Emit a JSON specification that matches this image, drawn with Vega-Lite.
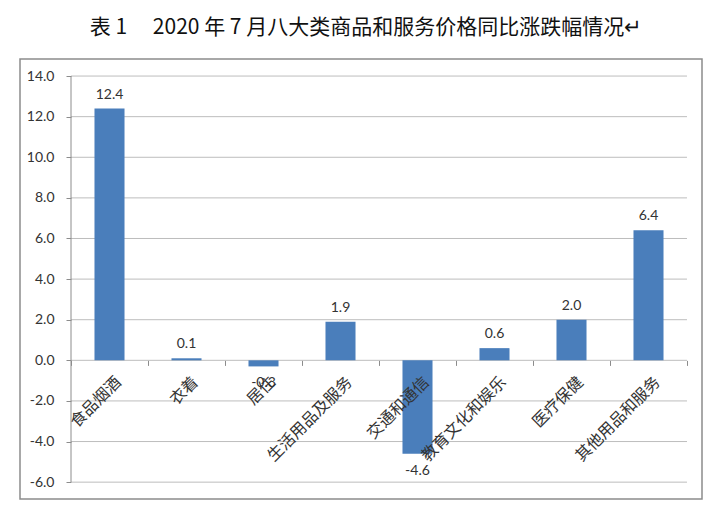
{
  "$schema": "https://vega.github.io/schema/vega-lite/v6.json",
  "width": 682,
  "height": 440,
  "autosize": {"type": "none"},
  "padding": {"left": 20, "top": 59, "right": 18, "bottom": 17},
  "background": "white",
  "title": {
    "text": "表 1　 2020 年 7 月八大类商品和服务价格同比涨跌幅情况↵",
    "font": "Noto Sans CJK SC",
    "fontSize": 21,
    "fontWeight": "normal",
    "color": "#111111",
    "anchor": "middle",
    "baseline": "bottom",
    "offset": 0,
    "dx": 5
  },
  "config": {
    "view": {"stroke": "#8c8c8c", "strokeWidth": 1.5}
  },
  "datasets": {
    "bars": [
      {"c": "食品烟酒", "v": 12.4},
      {"c": "衣着", "v": 0.1},
      {"c": "居住", "v": -0.3},
      {"c": "生活用品及服务", "v": 1.9},
      {"c": "交通和通信", "v": -4.6},
      {"c": "教育文化和娱乐", "v": 0.6},
      {"c": "医疗保健", "v": 2.0},
      {"c": "其他用品和服务", "v": 6.4}
    ],
    "grid": [
      {"g": -6}, {"g": -4}, {"g": -2}, {"g": 0}, {"g": 2}, {"g": 4},
      {"g": 6}, {"g": 8}, {"g": 10}, {"g": 12}, {"g": 14}
    ]
  },
  "data": {"name": "bars"},
  "layer": [
    {
      "data": {"name": "grid"},
      "mark": {"type": "rule", "color": "#bdbdbd", "strokeWidth": 1},
      "encoding": {
        "x": {"datum": "食品烟酒", "type": "nominal", "bandPosition": 0},
        "x2": {"datum": "其他用品和服务", "bandPosition": 1},
        "y": {"field": "g", "type": "quantitative"}
      }
    },
    {
      "data": {"values": [{}]},
      "mark": {"type": "rule", "color": "#8c8c8c", "strokeWidth": 1},
      "encoding": {
        "x": {"datum": "食品烟酒", "type": "nominal", "bandPosition": 0},
        "y": {"datum": -6, "type": "quantitative"},
        "y2": {"datum": 14}
      }
    },
    {
      "mark": {"type": "bar", "color": "#4a7ebb", "width": {"band": 0.39}},
      "encoding": {
        "x": {
          "field": "c",
          "type": "nominal",
          "sort": null,
          "scale": {
            "domain": ["食品烟酒", "衣着", "居住", "生活用品及服务", "交通和通信", "教育文化和娱乐", "医疗保健", "其他用品和服务"],
            "paddingInner": 0, "paddingOuter": 0.4286, "align": 0.7727
          },
          "axis": {
            "title": null,
            "orient": "bottom",
            "offset": -138.6,
            "zindex": 1,
            "domain": false,
            "tickBand": "extent",
            "ticks": true,
            "tickSize": 5,
            "tickColor": "#8c8c8c",
            "labelAngle": -45,
            "labelAlign": "right",
            "labelBaseline": "top",
            "labelPadding": 8,
            "labelOffset": 3,
            "labelFont": "Noto Sans CJK SC",
            "labelFontSize": 16,
            "labelColor": "#333333",
            "labelOverlap": false
          }
        },
        "y": {
          "field": "v",
          "type": "quantitative",
          "scale": {"domain": [-6.83, 14.84], "nice": false, "zero": false},
          "axis": {
            "title": null,
            "values": [-6, -4, -2, 0, 2, 4, 6, 8, 10, 12, 14],
            "labelExpr": "replace(format(datum.value, '.1f'), '−', '-')",
            "offset": -51,
            "grid": false,
            "domain": false,
            "ticks": true,
            "tickSize": 5,
            "tickColor": "#8c8c8c",
            "labelPadding": 12,
            "labelFont": "Lato",
            "labelFontSize": 14,
            "labelColor": "#333333"
          }
        }
      }
    },
    {
      "transform": [
        {"filter": "datum.v >= 0"},
        {"calculate": "replace(format(datum.v, '.1f'), '−', '-')", "as": "lbl"}
      ],
      "mark": {"type": "text", "baseline": "bottom", "dy": -7, "font": "Lato", "fontSize": 14, "color": "#333333"},
      "encoding": {
        "x": {"field": "c", "type": "nominal", "sort": null},
        "y": {"field": "v", "type": "quantitative"},
        "text": {"field": "lbl", "type": "nominal"}
      }
    },
    {
      "transform": [
        {"filter": "datum.v < 0"},
        {"calculate": "replace(format(datum.v, '.1f'), '−', '-')", "as": "lbl"}
      ],
      "mark": {"type": "text", "baseline": "top", "dy": 10, "font": "Lato", "fontSize": 14, "color": "#333333"},
      "encoding": {
        "x": {"field": "c", "type": "nominal", "sort": null},
        "y": {"field": "v", "type": "quantitative"},
        "text": {"field": "lbl", "type": "nominal"}
      }
    }
  ]
}
